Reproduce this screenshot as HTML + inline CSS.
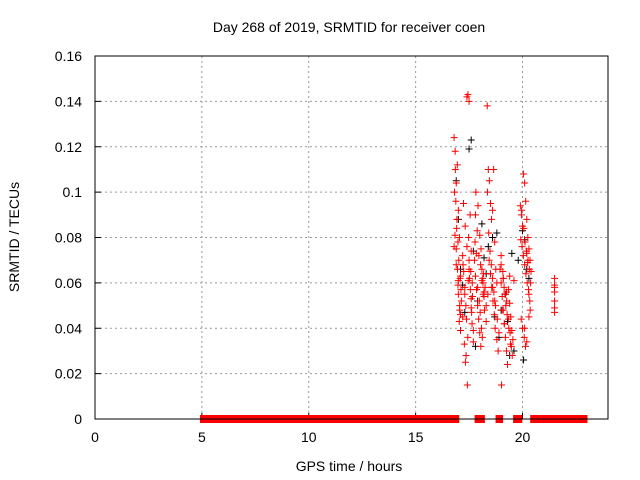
<!DOCTYPE html>
<html><head><meta charset="utf-8"><style>
body{margin:0;background:#fff}
svg{display:block;font-family:"Liberation Sans",sans-serif}
</style></head><body>
<svg id="c" width="640" height="480">
<text x="349" y="32" font-size="14" text-anchor="middle">Day 268 of 2019, SRMTID for receiver coen</text>
<text x="349" y="471" font-size="14" text-anchor="middle">GPS time / hours</text>
<text transform="translate(19,237) rotate(-90)" font-size="14" text-anchor="middle">SRMTID / TECUs</text>
<g id="grid"></g><g id="ticks"></g><g id="marks"></g>
<rect x="95" y="56" width="513" height="363" fill="none" stroke="#000" stroke-width="1"/>
</svg>
<script>
const xTicks=[0,5,10,15,20];
const yTicks=[0,0.02,0.04,0.06,0.08,0.1,0.12,0.14,0.16];
const yTickLabels=["0","0.02","0.04","0.06","0.08","0.1","0.12","0.14","0.16"];
const zeroSegments=[[5.05,16.9],[17.9,18.1],[18.88,18.95],[19.7,19.85],[20.5,21.45],[21.5,22.9]];
const redX=[16.8,16.85,16.9,16.95,17.0,17.05,17.1,16.82,16.88,16.93,16.98,17.02,17.08,17.12,16.84,16.9,16.96,17.0,17.06,17.1,16.86,16.92,17.0,17.04,17.14,16.8,16.9,16.98,17.06,17.1,
17.2,17.25,17.3,17.35,17.4,17.45,17.5,17.55,17.6,17.65,17.2,17.28,17.33,17.42,17.48,17.52,17.6,17.62,17.7,17.22,17.3,17.38,17.44,17.5,17.58,17.66,17.24,17.32,17.4,17.5,17.56,17.6,17.64,17.7,17.36,17.46,
17.75,17.8,17.85,17.9,17.95,18.0,18.05,18.1,18.15,18.2,17.78,17.84,17.9,17.98,18.02,18.08,18.12,18.18,18.25,17.8,17.88,17.96,18.04,18.1,18.16,18.22,17.82,17.92,18.0,18.06,18.14,18.2,18.3,18.3,
18.35,18.4,18.45,18.5,18.55,18.6,18.65,18.7,18.75,18.8,18.38,18.44,18.5,18.56,18.62,18.68,18.72,18.8,18.86,18.36,18.42,18.48,18.54,18.6,18.66,18.74,18.82,18.9,18.5,18.6,18.7,
18.95,19.0,19.05,19.1,19.15,19.2,19.25,19.3,19.35,19.4,19.45,19.5,19.55,19.0,19.08,19.14,19.22,19.28,19.36,19.44,19.52,19.02,19.1,19.18,19.26,19.34,19.42,19.48,19.6,19.05,19.15,19.25,19.4,19.0,19.1,
19.9,19.95,20.0,20.05,20.1,20.15,20.2,20.25,20.3,20.35,20.4,19.92,19.98,20.04,20.1,20.16,20.22,20.28,20.34,19.94,20.0,20.08,20.14,20.2,20.26,20.32,20.38,19.96,20.06,20.12,20.18,20.24,20.3,20.36,20.1,20.2,20.3,
21.5,21.5,21.5,21.5,21.5,21.5,21.5];
const redY=[0.124,0.118,0.104,0.112,0.092,0.08,0.063,0.1,0.096,0.088,0.078,0.07,0.062,0.057,0.081,0.075,0.066,0.055,0.05,0.046,0.11,0.084,0.061,0.043,0.052,0.076,0.068,0.059,0.048,0.039,
0.072,0.065,0.055,0.05,0.142,0.143,0.14,0.09,0.074,0.06,0.045,0.033,0.025,0.015,0.08,0.062,0.053,0.047,0.039,0.068,0.058,0.044,0.036,0.07,0.065,0.054,0.095,0.085,0.076,0.066,0.057,0.049,0.042,0.034,0.028,0.061,
0.07,0.063,0.057,0.05,0.044,0.038,0.032,0.066,0.06,0.054,0.078,0.073,0.058,0.052,0.047,0.04,0.036,0.064,0.058,0.09,0.083,0.072,0.068,0.061,0.055,0.048,0.1,0.094,0.081,0.075,0.062,0.056,0.05,0.043,
0.138,0.11,0.105,0.095,0.088,0.092,0.11,0.078,0.066,0.06,0.055,0.07,0.064,0.058,0.052,0.046,0.04,0.035,0.03,0.1,0.082,0.074,0.068,0.062,0.056,0.05,0.044,0.038,0.064,0.058,0.052,
0.066,0.06,0.054,0.048,0.042,0.036,0.03,0.024,0.057,0.051,0.045,0.039,0.035,0.072,0.065,0.058,0.05,0.046,0.04,0.033,0.028,0.015,0.062,0.055,0.052,0.044,0.038,0.032,0.061,0.048,0.042,0.056,0.063,0.068,0.062,
0.094,0.09,0.085,0.108,0.104,0.096,0.088,0.08,0.075,0.07,0.065,0.079,0.076,0.072,0.068,0.064,0.06,0.057,0.052,0.044,0.04,0.036,0.032,0.073,0.07,0.066,0.06,0.092,0.084,0.078,0.074,0.069,0.055,0.048,0.04,0.034,0.045,
0.062,0.059,0.056,0.052,0.049,0.047,0.058];
const blackX=[16.9,17.0,17.1,17.3,17.5,17.6,17.8,17.9,18.1,18.2,18.4,18.6,18.7,18.9,19.0,19.2,19.3,19.4,19.6,19.8,20.0,20.1,20.2,20.3,17.2,17.7,18.3,18.8,19.5,20.05];
const blackY=[0.105,0.088,0.066,0.047,0.119,0.123,0.032,0.052,0.086,0.071,0.076,0.08,0.045,0.036,0.048,0.055,0.043,0.028,0.03,0.07,0.083,0.079,0.066,0.062,0.059,0.074,0.064,0.082,0.073,0.026];
const NS="http://www.w3.org/2000/svg";
const X0=95,X1=608,Y0=419,Y1=56;
function sx(v){return X0+(v/24)*(X1-X0);}
function sy(v){return Y0-(v/0.16)*(Y0-Y1);}
function mk(tag,attrs,parent){const e=document.createElementNS(NS,tag);for(const k in attrs)e.setAttribute(k,attrs[k]);parent.appendChild(e);return e;}
const grid=document.getElementById('grid'),ticks=document.getElementById('ticks'),marks=document.getElementById('marks');
xTicks.forEach(t=>{
  const x=sx(t);
  if(t>0){const g=mk('line',{x1:x,x2:x,y1:Y1,y2:Y0,stroke:'#999','stroke-dasharray':'2,3'},grid);
  
  }
  const l=mk('line',{x1:x,x2:x,y1:Y0,y2:Y0-6,stroke:'#000'},ticks);
  
  
  const tx=mk('text',{x:x,y:Y0+23,'font-size':14,'text-anchor':'middle'},ticks);tx.textContent=t;
  
  
});
yTicks.forEach((t,i)=>{
  const y=sy(t);
  if(t>0&&t<0.16){const g=mk('line',{x1:X0,x2:X1,y1:y,y2:y,stroke:'#999','stroke-dasharray':'2,3'},grid);
  
  }
  const l=mk('line',{x1:X0,x2:X0+6,y1:y,y2:y,stroke:'#000'},ticks);
  
  
  const tx=mk('text',{x:X0-13,y:y+5,'font-size':14,'text-anchor':'end'},ticks);tx.textContent=yTickLabels[i];
  
  
});
const zl=mk('line',{x1:X0,x2:X1,y1:Y0,y2:Y0,stroke:'#000'},grid);


function plus(x,y,col,name){
  const p=mk('path',{d:`M${x-3.5},${y}h7M${x},${y-3.5}v7`,stroke:col,'stroke-width':1,fill:'none'},marks);
  
  
}
blackX.forEach((v,i)=>plus(sx(v),sy(blackY[i]),'#000','black-point'));
redX.forEach((v,i)=>plus(sx(v),sy(redY[i]),'#f00','red-point'));
zeroSegments.forEach(s=>{
  const r=mk('rect',{x:sx(s[0])-3,y:sy(0)-4,width:sx(s[1])-sx(s[0])+6,height:8,fill:'#f00'},marks);
  
  
});
const zl2=mk('line',{x1:X0,x2:X1,y1:Y0,y2:Y0,stroke:'#000'},marks);


</script>
</body></html>
